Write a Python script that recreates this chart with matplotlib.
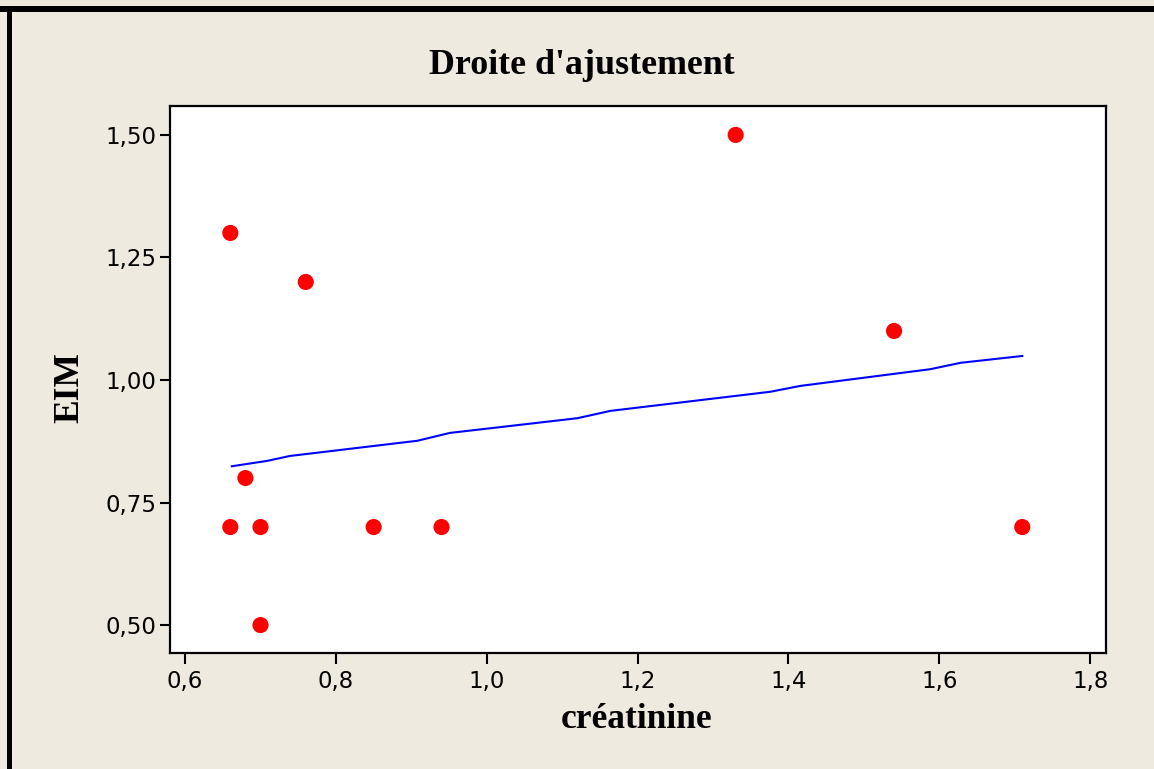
import matplotlib
matplotlib.use("Agg")
import matplotlib.pyplot as plt
from matplotlib.patches import Rectangle
from matplotlib.ticker import FuncFormatter

# Data
creatinine = [0.66, 0.76, 1.33, 1.54, 0.68, 0.66, 0.70, 0.85, 0.94, 1.71, 0.70]
eim = [1.30, 1.20, 1.50, 1.10, 0.80, 0.70, 0.70, 0.70, 0.70, 0.70, 0.50]

# Fitted line as drawn (piecewise polyline)
fit_x = [0.662, 0.709, 0.739, 0.908, 0.951, 1.120, 1.164, 1.376, 1.416, 1.588, 1.628, 1.710]
fit_y = [0.824, 0.835, 0.845, 0.876, 0.892, 0.922, 0.937, 0.976, 0.988, 1.022, 1.035, 1.049]

x_ticks = [0.6, 0.8, 1.0, 1.2, 1.4, 1.6, 1.8]
y_ticks = [0.50, 0.75, 1.00, 1.25, 1.50]

title = "Droite d'ajustement"
xlabel = "créatinine"
ylabel = "EIM"

bg = "#EEEAE0"
W, H = 1154, 769
fig = plt.figure(figsize=(W / 100, H / 100), dpi=100, facecolor=bg)

# black frame at top and left
fig.patches.append(Rectangle((0, 1 - 12 / H), 1, 6 / H, transform=fig.transFigure,
                             facecolor="black", edgecolor="none", zorder=5))
fig.patches.append(Rectangle((7 / W, 0), 5 / W, 1 - 6 / H, transform=fig.transFigure,
                             facecolor="black", edgecolor="none", zorder=5))

ax = fig.add_axes([170 / W, 1 - 653 / H, (1106 - 170) / W, (653 - 106) / H])
ax.set_facecolor("white")

ax.plot(fit_x, fit_y, color="#0000FF", linewidth=1.5, zorder=2)
ax.scatter(creatinine, eim, s=135, color="#FF0000", edgecolors="none", zorder=3)

ax.set_xlim(0.580, 1.821)
ax.set_ylim(0.443, 1.559)
ax.set_xticks(x_ticks)
ax.set_yticks(y_ticks)
ax.xaxis.set_major_formatter(FuncFormatter(lambda v, p: f"{v:.1f}".replace(".", ",")))
ax.yaxis.set_major_formatter(FuncFormatter(lambda v, p: f"{v:.2f}".replace(".", ",")))

for s in ax.spines.values():
    s.set_linewidth(1.6)
    s.set_color("black")

ax.tick_params(axis="x", direction="out", length=8, width=1.5, labelsize=16.5, pad=4)
ax.tick_params(axis="y", direction="out", length=7, width=1.5, labelsize=16.5, pad=3)
for lab in ax.get_xticklabels() + ax.get_yticklabels():
    lab.set_family("DejaVu Sans")

serif = ["Liberation Serif", "DejaVu Serif"]
fig.text(582 / W, 1 - 65 / H, title, ha="center", va="center",
         fontsize=25.8, fontweight="bold", family=serif)
fig.text(637 / W, 1 - 720 / H, xlabel, ha="center", va="center",
         fontsize=25.5, fontweight="bold", family=serif)
fig.text(70 / W, 1 - 388 / H, ylabel, ha="center", va="center", rotation=90,
         fontsize=25.5, fontweight="bold", family=serif)

fig.savefig("out.png", dpi=100, facecolor=bg)
